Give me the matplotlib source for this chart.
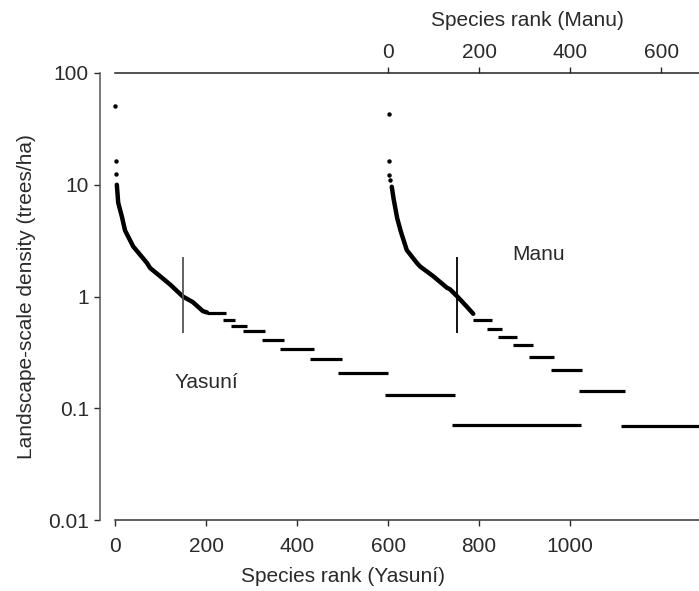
import matplotlib
matplotlib.use("Agg")
import matplotlib.pyplot as plt

plt.rcParams["font.family"] = ["Liberation Sans", "DejaVu Sans"]

manu_offset = 600

# Yasuni: isolated top points, continuous part, then tie steps
yas_dot_rank = [1, 2, 3]
yas_dot_dens = [50.7, 16.4, 12.6]
yas_curve_rank = [4, 7, 15, 22, 40, 70, 77, 99, 121, 149, 171, 193, 202]
yas_curve_dens = [10.0, 6.9, 5.2, 3.9, 2.8, 2.0, 1.8, 1.52, 1.28, 1.0, 0.89, 0.74, 0.72]
yas_step_start = [202, 237, 255, 281, 323, 363, 429, 490, 593, 741]
yas_step_end = [244, 264, 290, 330, 371, 437, 499, 600, 747, 1024]
yas_step_dens = [0.715, 0.62, 0.55, 0.49, 0.41, 0.34, 0.277, 0.205, 0.132, 0.0705]
yas_bar_rank = 149
yas_bar_range = (0.476, 2.28)

# Manu (ranks on the Manu scale)
manu_dot_rank = [1, 2, 3, 5]
manu_dot_dens = [43.0, 16.4, 12.2, 11.0]
manu_curve_rank = [8, 12, 20, 28, 41, 63, 70, 99, 129, 136, 152, 173, 187]
manu_curve_dens = [9.6, 7.5, 5.0, 3.8, 2.6, 2.0, 1.86, 1.52, 1.2, 1.16, 1.0, 0.81, 0.7]
manu_step_start = [187, 218, 242, 275, 310, 358, 420, 512]
manu_step_end = [229, 251, 284, 319, 365, 426, 521, 700]
manu_step_dens = [0.62, 0.51, 0.43, 0.365, 0.29, 0.22, 0.142, 0.07]
manu_bar_rank = 152
manu_bar_range = (0.476, 2.28)

xmin, xmax = -33, 1283
txt = "#2a2a2a"

fig = plt.figure(figsize=(6.99, 5.91), dpi=100)
ax = fig.add_axes([100 / 699, 71 / 591, 599 / 699, 447 / 591])

# Yasuni
ax.plot(yas_dot_rank, yas_dot_dens, "o", color="k", ms=3.2, mew=0)
ax.plot(yas_curve_rank, yas_curve_dens, "-", color="k", lw=3.2, solid_capstyle="round")
ax.hlines(yas_step_dens, yas_step_start, yas_step_end, color="k", lw=2.3)
ax.vlines(yas_bar_rank, *yas_bar_range, color="#555555", lw=1.3)

# Manu, shifted onto the Yasuni axis
ax.plot([r + manu_offset for r in manu_dot_rank], manu_dot_dens, "o", color="k", ms=3.2, mew=0)
ax.plot([r + manu_offset for r in manu_curve_rank], manu_curve_dens, "-", color="k", lw=3.2,
        solid_capstyle="round")
ax.hlines(manu_step_dens, [s + manu_offset for s in manu_step_start],
          [e + manu_offset for e in manu_step_end], color="k", lw=2.3)
ax.vlines(manu_bar_rank + manu_offset, *manu_bar_range, color="k", lw=1.3)

ax.text(200, 0.17, "Yasuní", fontsize=15, color=txt, ha="center", va="center")
ax.text(930, 2.38, "Manu", fontsize=15, color=txt, ha="center", va="center")

ax.set_yscale("log")
ax.set_ylim(0.01, 100)
ax.set_yticks([0.01, 0.1, 1, 10, 100])
ax.set_yticklabels(["0.01", "0.1", "1", "10", "100"])
ax.minorticks_off()
ax.set_xlim(xmin, xmax)
ax.set_xticks([0, 200, 400, 600, 800, 1000])

ax.spines["right"].set_visible(False)
ax.spines["bottom"].set_bounds(0, xmax)
ax.spines["top"].set_bounds(0, xmax)
for s in ["left", "bottom", "top"]:
    ax.spines[s].set_linewidth(1.1)
ax.spines["left"].set_color("#555555")
ax.spines["bottom"].set_color("#333333")
ax.spines["top"].set_color("#222222")

ax.tick_params(axis="both", labelsize=15, colors=txt, length=4, width=1.0)
ax.tick_params(axis="x", pad=8)
ax.tick_params(axis="y", pad=4)

sec = ax.secondary_xaxis("top", functions=(lambda x: x - manu_offset, lambda x: x + manu_offset))
sec.set_xticks([0, 200, 400, 600])
sec.spines["top"].set_visible(False)
sec.tick_params(labelsize=15, colors=txt, length=4, width=1.0, pad=4)

ax.set_xlabel("Species rank (Yasuní)", fontsize=15, color=txt)
ax.xaxis.label.set_verticalalignment("center")
ax.xaxis.set_label_coords(0.4057, -0.1275)
ax.set_ylabel("Landscape-scale density (trees/ha)", fontsize=15, color=txt)
ax.yaxis.label.set_verticalalignment("center")
ax.yaxis.set_label_coords(-0.1235, 0.5)
fig.text(527 / 699, 1 - 21 / 591, "Species rank (Manu)", fontsize=15, color=txt,
         ha="center", va="center")

fig.savefig("out.png", dpi=100)
